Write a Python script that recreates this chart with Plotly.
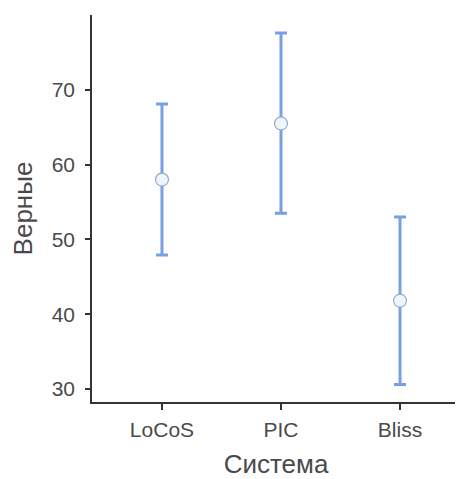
import plotly.graph_objects as go

systems = ["LoCoS", "PIC", "Bliss"]
means = [58.0, 65.5, 41.8]
upper = [68.1, 77.6, 53.0]
lower = [47.9, 53.5, 30.6]

err_plus = [u - m for u, m in zip(upper, means)]
err_minus = [m - l for m, l in zip(means, lower)]

fig = go.Figure()
fig.add_trace(go.Scatter(
    x=list(range(len(systems))), y=means, mode="markers",
    marker=dict(size=13, color="#EEF6FC", line=dict(color="#9AA9C9", width=1.2)),
    error_y=dict(type="data", symmetric=False, array=err_plus, arrayminus=err_minus,
                 color="#7B9FE6", thickness=3, width=6),
    showlegend=False,
))

font = "Liberation Sans, Arial, sans-serif"
fig.update_layout(
    width=455, height=471,
    margin=dict(l=84, r=3, t=7, b=77, autoexpand=False),
    plot_bgcolor="white", paper_bgcolor="white",
    font=dict(family=font, color="#333333"),
    xaxis=dict(
        range=[-0.588, 2.504], tickmode="array", tickvals=list(range(len(systems))),
        ticktext=systems, showgrid=False, zeroline=False, showline=True,
        linecolor="#333333", linewidth=1.5, ticks="outside", ticklen=6,
        tickwidth=1.5, tickcolor="#333333", tickfont=dict(size=21, color="#4a4a4a"),
        ticklabelstandoff=2, automargin=False,
        title=dict(text="Система", font=dict(size=26, color="#4a4a4a"), standoff=18),
    ),
    yaxis=dict(
        range=[28.26, 80.0], tickvals=[30, 40, 50, 60, 70], showgrid=False,
        zeroline=False, showline=True, linecolor="#333333", linewidth=1.5,
        ticks="outside", ticklen=5, tickwidth=1.5, tickcolor="#333333",
        tickfont=dict(size=21, color="#4a4a4a"), ticklabelstandoff=6, automargin=False,
        title=dict(text="Верные", font=dict(size=26, color="#4a4a4a"), standoff=12),
    ),
)
fig.write_html("out.html")
